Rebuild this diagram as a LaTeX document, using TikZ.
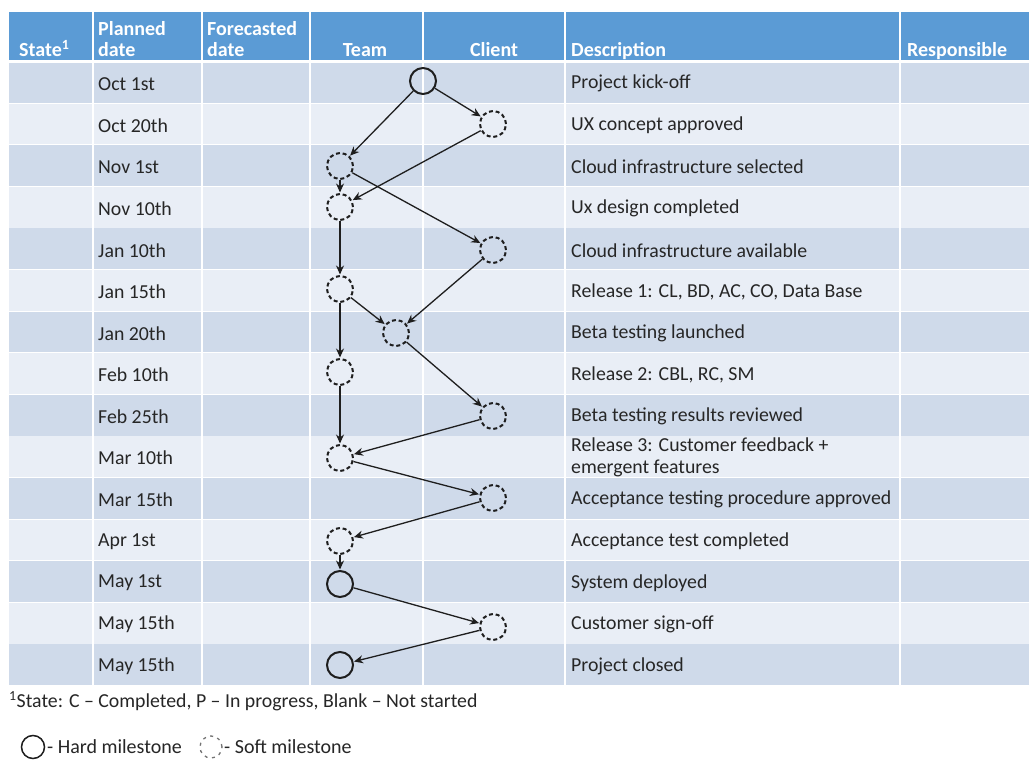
\documentclass[tikz,border=0pt]{standalone}
\usepackage{fontspec}
\setmainfont{Carlito}
\usetikzlibrary{arrows.meta}
\definecolor{hdrblue}{HTML}{5B9BD5}
\definecolor{rowdark}{HTML}{CFDAEA}
\definecolor{rowlight}{HTML}{E9EEF6}
\definecolor{inkline}{HTML}{1E1E1E}
\tikzset{
  cell/.style={font=\fontsize{19.8}{22}\selectfont, text=black!85, anchor=west, inner sep=0pt},
  hdr/.style={font=\fontsize{20}{21}\selectfont\bfseries, text=white, inner sep=0pt, align=left},
  hardms/.style={circle, draw=inkline, line width=2pt, minimum size=26pt, inner sep=0pt},
  softms/.style={circle, draw=inkline, line width=2pt, minimum size=26pt, inner sep=0pt, dash pattern=on 4pt off 2.8pt},
  flow/.style={draw=inkline, line width=1.3pt, -{Stealth[length=9pt,width=8pt]}, shorten >=0.5pt},
  legtext/.style={font=\fontsize{20}{22}\selectfont, text=black!85, anchor=west, inner sep=0pt},
}
\begin{document}
\begin{tikzpicture}[x=1pt,y=-1pt]
\useasboundingbox (0,0) rectangle (1029,760);
\fill[white] (0,0) rectangle (1029,760);
% header band
\fill[hdrblue] (9,12) rectangle (1029,62);
% body rows, alternating shades
\foreach \i in {1,...,15}{
  \pgfmathsetmacro{\top}{62+41.6*(\i-1)}
  \pgfmathsetmacro{\bot}{62+41.6*\i}
  \pgfmathparse{mod(\i,2)==1 ? "rowdark" : "rowlight"}
  \edef\shade{\pgfmathresult}
  \fill[\shade] (9,\top) rectangle (1029,\bot);
  \draw[white, line width=1.6pt] (9,\bot) -- (1029,\bot);
}
\draw[white, line width=3pt] (9,62) -- (1029,62);
% column rules
\foreach \cx in {93,202,310,423,565,900}{
  \draw[white, line width=1.6pt] (\cx,12) -- (\cx,686);
}
% header labels
\node[hdr, anchor=base west] (hState) at (19,57) {State\textsuperscript{1}};
\node[hdr, anchor=base west] (hPlan) at (98,57) {Planned\\date};
\node[hdr, anchor=base west] (hFore) at (207,57) {Forecasted\\date};
\node[hdr, anchor=base] (hTeam) at (365,57) {Team};
\node[hdr, anchor=base] (hClient) at (494,57) {Client};
\node[hdr, anchor=base west] (hDesc) at (571,57) {Description};
\node[hdr, anchor=base west] (hResp) at (907,57) {Responsible};
% planned dates and descriptions
\foreach \i/\d/\t in {
  1/Oct 1st/Project kick-off,
  2/Oct 20th/UX concept approved,
  3/Nov 1st/Cloud infrastructure selected,
  4/Nov 10th/Ux design completed,
  5/Jan 10th/Cloud infrastructure available,
  6/Jan 15th/{Release 1: CL, BD, AC, CO, Data Base},
  7/Jan 20th/Beta testing launched,
  8/Feb 10th/{Release 2: CBL, RC, SM},
  9/Feb 25th/Beta testing results reviewed,
  11/Mar 15th/Acceptance testing procedure approved,
  12/Apr 1st/Acceptance test completed,
  13/May 1st/System deployed,
  14/May 15th/Customer sign-off,
  15/May 15th/Project closed}{
  \pgfmathsetmacro{\cy}{62+41.6*(\i-0.5)+1}
  \node[cell] (date\i) at (98,\cy) {\d};
  \node[cell] (desc\i) at (571,\cy) {\t};
}
\node[cell] (date10) at (98,458) {Mar 10th};
\node[cell, align=left] (desc10) at (571,457) {Release 3: Customer feedback +\\emergent features};
% milestones
\node[hardms] (m1)  at (423,81)  {};
\node[softms] (m2)  at (493,124) {};
\node[softms] (m3)  at (340,166) {};
\node[softms] (m4)  at (340,207) {};
\node[softms] (m5)  at (493,250) {};
\node[softms] (m6)  at (340,289) {};
\node[softms] (m7)  at (396,333) {};
\node[softms] (m8)  at (340,372) {};
\node[softms] (m9)  at (493,416) {};
\node[softms] (m10) at (340,458) {};
\node[softms] (m11) at (493,498) {};
\node[softms] (m12) at (340,541) {};
\node[hardms] (m13) at (340,584) {};
\node[softms] (m14) at (493,627) {};
\node[hardms] (m15) at (340,665) {};
% dependencies
\draw[flow] (m1) -- (m2);
\draw[flow] (m1) -- (m3);
\draw[flow] (m2) -- (m4);
\draw[flow] (m3) -- (m4);
\draw[flow] (m3) -- (m5);
\draw[flow] (m4) -- (m6);
\draw[flow] (m5) -- (m7);
\draw[flow] (m6) -- (m7);
\draw[flow] (m6) -- (m8);
\draw[flow] (m7) -- (m9);
\draw[flow] (m8) -- (m10);
\draw[flow] (m9) -- (m10);
\draw[flow] (m10) -- (m11);
\draw[flow] (m11) -- (m12);
\draw[flow] (m12) -- (m13);
\draw[flow] (m13) -- (m14);
\draw[flow] (m14) -- (m15);
% footnote and legend
\node[cell] (foot) at (9,701) {\textsuperscript{1}State: C -- Completed, P -- In progress, Blank -- Not started};
\node[hardms, line width=1.5pt, minimum size=23pt] (lgHard) at (33,747) {};
\node[legtext] (lgHardTxt) at (47,747) {- Hard milestone};
\node[softms, line width=1.3pt, minimum size=22pt, draw=black!55, dash pattern=on 3pt off 4.5pt] (lgSoft) at (211,747) {};
\node[legtext] (lgSoftTxt) at (224,747) {- Soft milestone};
\end{tikzpicture}
\end{document}
